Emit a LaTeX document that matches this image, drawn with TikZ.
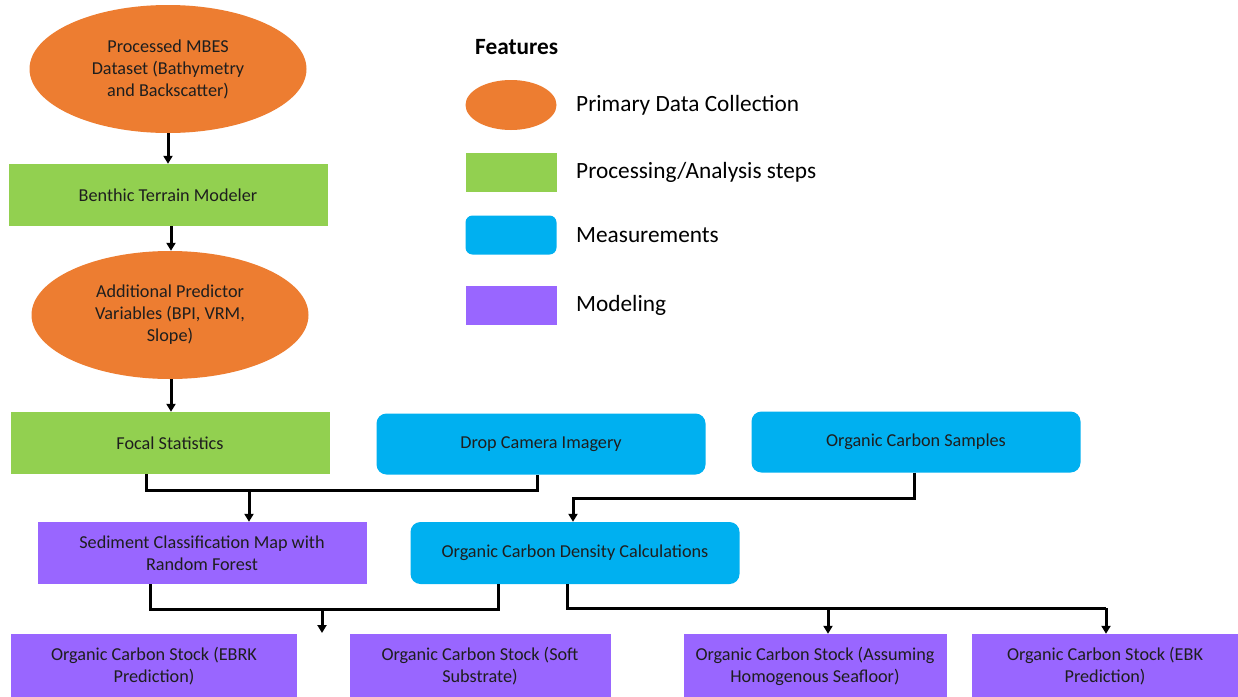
\documentclass[tikz,border=0pt]{standalone}
\usepackage{fontspec}
\setmainfont{Carlito}
\usetikzlibrary{shapes.geometric,arrows.meta}
\definecolor{orng}{HTML}{ED7D31}
\definecolor{grn}{HTML}{92D050}
\definecolor{blu}{HTML}{00B0F0}
\definecolor{prp}{HTML}{9966FF}
\definecolor{txt}{HTML}{1E1E1E}
\tikzset{
  base/.style={align=center,text=txt,font=\fontsize{18.2}{22}\selectfont,inner sep=0pt},
  oval/.style={base,ellipse,fill=orng,minimum width=277pt,minimum height=128pt},
  greenbox/.style={base,rectangle,fill=grn,minimum width=319pt,minimum height=62pt},
  bluebox/.style={base,rectangle,rounded corners=10pt,fill=blu,minimum width=329pt,minimum height=61pt},
  purplebox/.style={base,rectangle,fill=prp,minimum height=64pt},
  conn/.style={draw=black,line width=3pt},
  arr/.style={conn,-{Triangle[length=8pt,width=9pt]}},
  legtext/.style={anchor=west,inner sep=0pt,text=black,font=\fontsize{23.3}{28}\selectfont},
}
\begin{document}
\begin{tikzpicture}[x=1pt,y=-1pt]
\useasboundingbox (0,0) rectangle (1238,696);
\fill[white] (0,0) rectangle (1238,696);
% main nodes
\node[oval] (mbes) at (168,69) {Processed MBES\\Dataset (Bathymetry\\and Backscatter)};
\node[greenbox] (btm) at (168,195) {Benthic Terrain Modeler};
\node[oval] (apv) at (170,315) {Additional Predictor\\Variables (BPI, VRM,\\Slope)};
\node[greenbox] (focal) at (170,443) {Focal Statistics};
\node[bluebox] (drop) at (541,444) {Drop Camera Imagery};
\node[bluebox] (samp) at (916,442) {Organic Carbon Samples};
\node[purplebox,minimum width=329pt,minimum height=62pt] (sed) at (202,553) {Sediment Classification Map with\\Random Forest};
\node[bluebox,minimum height=62pt] (dens) at (575,553) {Organic Carbon Density Calculations};
\node[purplebox,minimum width=286pt] (b1) at (154,666) {Organic Carbon Stock (EBRK\\Prediction)};
\node[purplebox,minimum width=261pt] (b2) at (480,666) {Organic Carbon Stock (Soft\\Substrate)};
\node[purplebox,minimum width=263pt] (b3) at (815,666) {Organic Carbon Stock (Assuming\\Homogenous Seafloor)};
\node[purplebox,minimum width=267pt] (b4) at (1105,666) {Organic Carbon Stock (EBK\\Prediction)};
% connectors
\draw[arr] (mbes.south) -- (btm.north);
\draw[arr] ([xshift=3pt]btm.south) -- ([xshift=1pt]apv.north);
\draw[arr] ([xshift=1pt]apv.south) -- ([xshift=1pt]focal.north);
\coordinate (j1) at (249,490);
\draw[conn] ([xshift=-24pt]focal.south) |- (j1) -| ([xshift=-4pt]drop.south);
\draw[arr] (j1) -- (j1 |- sed.north);
\coordinate (j2) at (573,498);
\draw[arr] ([xshift=-2pt]samp.south) |- (j2) -- (j2 |- dens.north);
\coordinate (j3) at (322,609);
\coordinate (j3e) at (322,633);
\draw[conn] ([xshift=-52pt]sed.south) |- (j3) -| ([xshift=-77pt]dens.south);
\draw[arr] (j3) -- (j3e);
\coordinate (j4) at (1106,608);
\coordinate (j5) at (828,608);
\draw[conn] ([xshift=-8pt]dens.south) |- (j4);
\draw[arr] (j5) -- (j5 |- b3.north);
\draw[arr] (j4) -- (j4 |- b4.north);
% legend
\node[anchor=west,inner sep=0pt,font=\bfseries\fontsize{23.3}{28}\selectfont] (feat) at (475,47) {Features};
\node[ellipse,fill=orng,minimum width=91pt,minimum height=50pt,inner sep=0pt] (l1) at (511,105) {};
\node[rectangle,fill=grn,minimum width=91pt,minimum height=39pt,inner sep=0pt] (l2) at (511,172) {};
\node[rectangle,fill=blu,rounded corners=7pt,minimum width=91pt,minimum height=39pt,inner sep=0pt] (l3) at (511,235) {};
\node[rectangle,fill=prp,minimum width=91pt,minimum height=39pt,inner sep=0pt] (l4) at (511,305) {};
\node[legtext] (t1) at (576,105) {Primary Data Collection};
\node[legtext] (t2) at (576,172) {Processing/Analysis steps};
\node[legtext] (t3) at (576,235) {Measurements};
\node[legtext] (t4) at (576,305) {Modeling};
\end{tikzpicture}
\end{document}
